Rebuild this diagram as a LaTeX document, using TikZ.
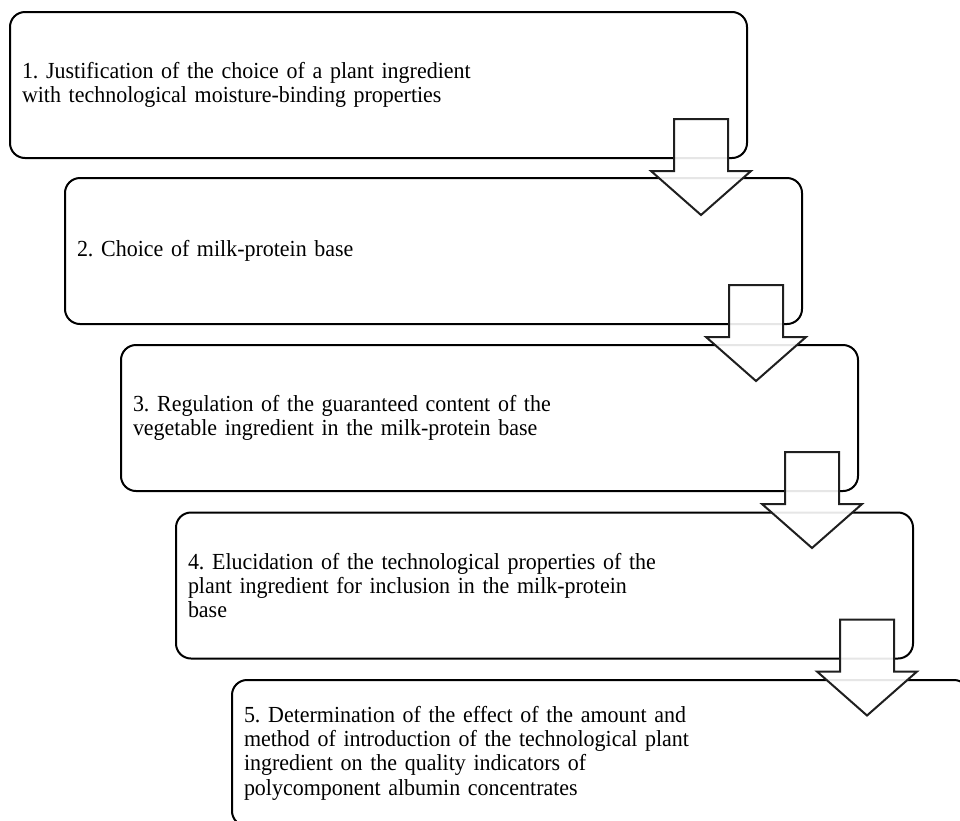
\documentclass[tikz,border=0pt]{standalone}
\usepackage{fontspec}
\setmainfont{Liberation Serif}[FakeStretch=0.955]
\usetikzlibrary{calc}
\frenchspacing

\tikzset{
  stepbox/.style={draw=black, line width=2pt, rounded corners=15pt, fill=white,
    text width=713pt, inner xsep=12pt, inner ysep=0pt, minimum height=146pt,
    align=left, font=\fontsize{23}{24.3}\selectfont},
  blockarrow/.style={draw=black!88, line width=2pt, fill=white, fill opacity=0.9,
    line join=miter},
}

% hollow block arrow hanging from the lower right corner of a box
\newcommand\hollowarrow[2]{%
  \path[blockarrow] ($(#1.south east)+(-74,-40)$) coordinate (#2)
    -- ++(54,0) -- ++(0,52) -- ++(23,0) -- ++(-50,44) -- ++(-50,-44)
    -- ++(23,0) -- cycle;%
}

\begin{document}
\begin{tikzpicture}[x=1pt, y=-1pt]
  \useasboundingbox[fill=white] (0,0) rectangle (960,820);

  \node[stepbox] (b1) at (378.5,85) {1. Justification of the choice of a plant ingredient\\with technological moisture-binding properties};
  \node[stepbox] (b2) at (433.5,251) {2. Choice of milk-protein base};
  \node[stepbox] (b3) at (489.5,418) {3. Regulation of the guaranteed content of the\\vegetable ingredient in the milk-protein base};
  \node[stepbox] (b4) at (544.5,585.5) {4. Elucidation of the technological properties of the\\plant ingredient for inclusion in the milk-protein\\base};
  \node[stepbox] (b5) at (600.5,753) {5. Determination of the effect of the amount and\\method of introduction of the technological plant\\ingredient on the quality indicators of\\polycomponent albumin concentrates};

  \hollowarrow{b1}{a1}
  \hollowarrow{b2}{a2}
  \hollowarrow{b3}{a3}
  \hollowarrow{b4}{a4}
\end{tikzpicture}
\end{document}
